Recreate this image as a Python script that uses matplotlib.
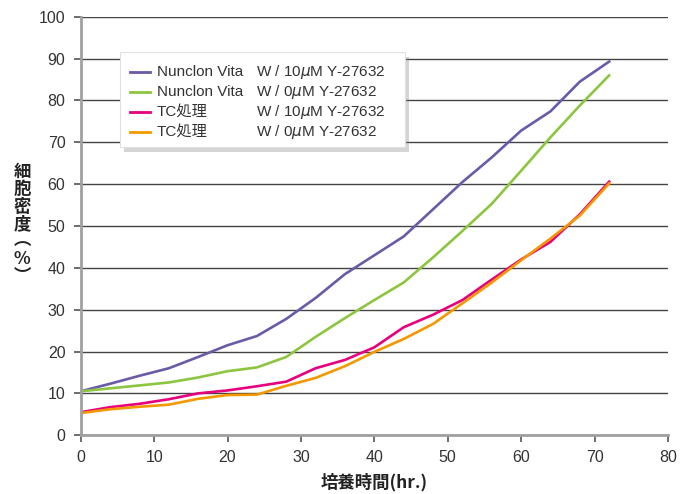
import matplotlib
matplotlib.use("Agg")
from matplotlib import pyplot as plt
from matplotlib.lines import Line2D
from matplotlib.patches import Rectangle

plt.rcParams['font.family'] = ['Liberation Sans', 'Noto Sans CJK JP', 'DejaVu Sans']
plt.rcParams['mathtext.fontset'] = 'dejavusans'

# hours
hours = [0, 4, 8, 12, 16, 20, 24, 28, 32, 36, 40, 44, 48, 52, 56, 60, 64, 68, 72]

# cell density (%)
nunclon_10 = [10.5, 12.3, 14.2, 16.0, 18.7, 21.5, 23.7, 27.8, 32.8, 38.5, 43.0, 47.5,
              54.0, 60.5, 66.4, 72.8, 77.4, 84.5, 89.3]
nunclon_0 = [10.5, 11.2, 11.9, 12.6, 13.8, 15.3, 16.2, 18.7, 23.5, 28.0, 32.3, 36.5,
             42.5, 48.8, 55.3, 63.2, 71.2, 78.8, 86.0]
tc_10 = [5.5, 6.7, 7.5, 8.6, 10.0, 10.7, 11.7, 12.8, 16.0, 18.0, 21.0, 25.8,
         28.8, 32.3, 37.2, 42.0, 46.2, 52.8, 60.6]
tc_0 = [5.3, 6.2, 6.8, 7.3, 8.7, 9.6, 9.7, 11.8, 13.7, 16.5, 19.9, 23.0,
        26.6, 31.5, 36.5, 41.8, 47.0, 52.5, 60.2]

names = ['Nunclon Vita', 'Nunclon Vita', 'TC処理', 'TC処理']
conds = ['W / 10$\\mu$M Y-27632', 'W / 0$\\mu$M Y-27632',
         'W / 10$\\mu$M Y-27632', 'W / 0$\\mu$M Y-27632']
colors = ['#6a5aa8', '#8cc63f', '#e6007e', '#f39800']

W, H = 690, 494
fig = plt.figure(figsize=(W / 100, H / 100), dpi=100)
ax = fig.add_axes([0.117, 0.119, 0.851, 0.847])

for ys, c in zip([nunclon_10, nunclon_0, tc_10, tc_0], colors):
    ax.plot(hours, ys, color=c, lw=1.9, solid_joinstyle='round')

ax.set_xlim(0, 80)
ax.set_ylim(0, 100)
ax.set_xticks(range(0, 81, 10))
ax.set_yticks(range(0, 101, 10))
ax.yaxis.grid(True, color='#444444', lw=1.0)
ax.set_axisbelow(True)
for s in ['top', 'right']:
    ax.spines[s].set_visible(False)
for s in ['left', 'bottom']:
    ax.spines[s].set_color('#a0a0a0')
    ax.spines[s].set_linewidth(2)
ax.tick_params(colors='#555555', labelcolor='#333333', labelsize=11.5, length=5, width=1.2, pad=6)


# legend drawn by hand (two text columns), pixel positions from top-left
def fx(px):
    return px / W


def fy(py):
    return 1 - py / H


tf = fig.transFigure
fig.patches.append(Rectangle((fx(124), fy(152)), fx(285), 95 / H, transform=tf,
                             facecolor='#888888', alpha=0.35, edgecolor='none', zorder=4))
fig.patches.append(Rectangle((fx(120), fy(147)), fx(285), 95 / H, transform=tf,
                             facecolor='white', edgecolor='#e0e0e0', lw=0.8, zorder=5))
for i, (nm, cd, c) in enumerate(zip(names, conds, colors)):
    yy = fy(72 + 20 * i)
    fig.lines.append(Line2D([fx(130), fx(150)], [yy, yy], transform=tf, color=c, lw=2, zorder=6))
    fig.text(fx(157), yy, nm, ha='left', va='center', fontsize=11, color='#333333', zorder=6)
    fig.text(fx(256), yy, cd, ha='left', va='center', fontsize=11, color='#333333', zorder=6)

fig.text(fx(22), fy(224), '細\n胞\n密\n度\n︵\n%\n︶', ha='center', va='center',
         fontsize=12.5, fontweight='bold', linespacing=0.95, color='#222222',
         family=['Noto Sans CJK JP', 'DejaVu Sans'])
fig.text(0.543, fy(482), '培養時間(hr.)', ha='center', va='center',
         fontsize=12.5, fontweight='bold', color='#222222',
         family=['Noto Sans CJK JP', 'DejaVu Sans'])

plt.savefig('out.png', dpi=100)
plt.close()
